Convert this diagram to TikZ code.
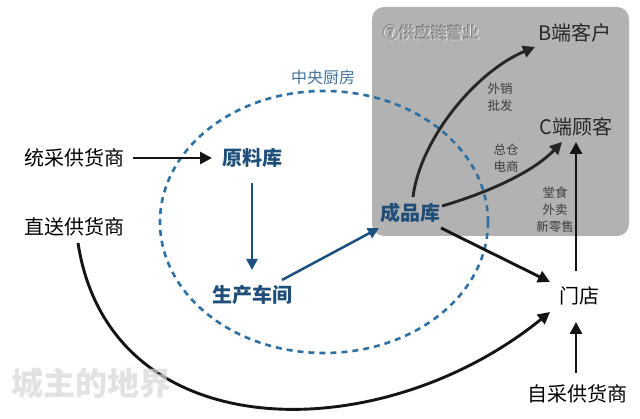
\documentclass[tikz,border=0pt]{standalone}
\usepackage{fontspec}
\setmainfont{Noto Sans CJK SC}
\usetikzlibrary{arrows.meta,calc}
\definecolor{boxgray}{RGB}{178,178,178}
\definecolor{nodeblue}{RGB}{31,78,121}
\definecolor{arrblue}{RGB}{28,80,128}
\definecolor{dashblue}{RGB}{46,112,163}
\definecolor{kitchenblue}{RGB}{70,115,155}
\definecolor{darktext}{RGB}{40,40,40}
\definecolor{smalltext}{RGB}{60,60,60}
\definecolor{wmark}{RGB}{214,214,214}
\tikzset{
  lbl/.style={inner sep=0pt, text height=15.5pt, text depth=0.5pt, font=\fontsize{20}{24}\selectfont, text=black},
  blbl/.style={lbl, font=\fontsize{20}{24}\selectfont\bfseries, text=nodeblue},
  glbl/.style={lbl, text=darktext},
  smalllbl/.style={inner sep=0pt, align=center, font=\fontsize{12.5}{17}\selectfont, text=smalltext},
  arr/.style={line width=2.9pt, draw=black!92, -{Triangle[length=12pt,width=12pt]}},
  barr/.style={line width=2.5pt, draw=arrblue, -{Triangle[length=11pt,width=11pt]}},
  emb/.style={inner sep=0pt, font=\fontsize{16}{18}\selectfont\bfseries},
}
\begin{document}
\begin{tikzpicture}[x=1pt,y=-1pt]
\useasboundingbox (0,0) rectangle (640,419);
% grey supply-chain box
\fill[boxgray, rounded corners=12pt] (372,7) rectangle (629,236);
% embossed title
\node[emb, text=white] (t7w) at (431.8,33.8) {⑦供应链营业};
\node[emb, text=black!55] (t7d) at (430.4,32.4) {⑦供应链营业};
\node[emb, text=black!33] (t7) at (431,33) {⑦供应链营业};
% central kitchen dashed ellipse
\draw[dashblue, line width=2.6pt, dash pattern=on 6pt off 5pt] (324,222) ellipse [x radius=164, y radius=131];
\node[inner sep=0pt, font=\fontsize{16}{18}\selectfont, text=kitchenblue] (zy) at (323,77) {中央厨房};
% nodes
\node[lbl] (tc) at (74,158) {统采供货商};
\node[lbl] (zs) at (74,227) {直送供货商};
\node[blbl] (ylk) at (252,158) {原料库};
\node[blbl] (sccj) at (252,295) {生产车间};
\node[blbl] (cpk) at (410,213) {成品库};
\node[glbl] (bk) at (575,33) {B端客户};
\node[glbl] (ck) at (576,127) {C端顾客};
\node[lbl] (md) at (579,296) {门店};
\node[lbl] (zc) at (577,394) {自采供货商};
% small labels
\node[smalllbl] (wx) at (500,97) {外销\\批发};
\node[smalllbl] (zcds) at (506,158) {总仓\\电商};
\node[smalllbl] (ts) at (555,210) {堂食\\外卖\\新零售};
% arrows
\draw[arr] ([shift={(59,0)}]tc.center) -- ([shift={(-40,0)}]ylk.center);
\draw[barr] ([shift={(0,25)}]ylk.center) -- ([shift={(0,-25)}]sccj.center);
\draw[barr] ([shift={(30,-15)}]sccj.center) -- ([shift={(-31,15)}]cpk.center);
\draw[arr, draw=black!85] ([shift={(3,-16)}]cpk.center) .. controls (420,140) and (475,72) .. ([shift={(-40,14)}]bk.center);
\draw[arr, draw=black!85] ([shift={(32,-7)}]cpk.center) .. controls (480,195) and (530,175) .. ([shift={(-14,15)}]ck.center);
\draw[arr] ([shift={(31,15)}]cpk.center) -- ([shift={(-29,-14)}]md.center);
\draw[arr] ([shift={(-3,-25)}]md.center) -- ([shift={(0,15)}]ck.center);
\draw[arr] ([shift={(-1,-21)}]zc.center) -- ([shift={(-3,26)}]md.center);
\draw[arr] ([shift={(4,16)}]zs.center) .. controls (110,450) and (380,450) .. ([shift={(-29,16)}]md.center);
% watermark, on top and translucent
\node[inner sep=0pt, font=\fontsize{32}{36}\selectfont\bfseries, text=wmark, text opacity=0.7] (wm) at (92,383) {城主的地界};
\end{tikzpicture}
\end{document}
